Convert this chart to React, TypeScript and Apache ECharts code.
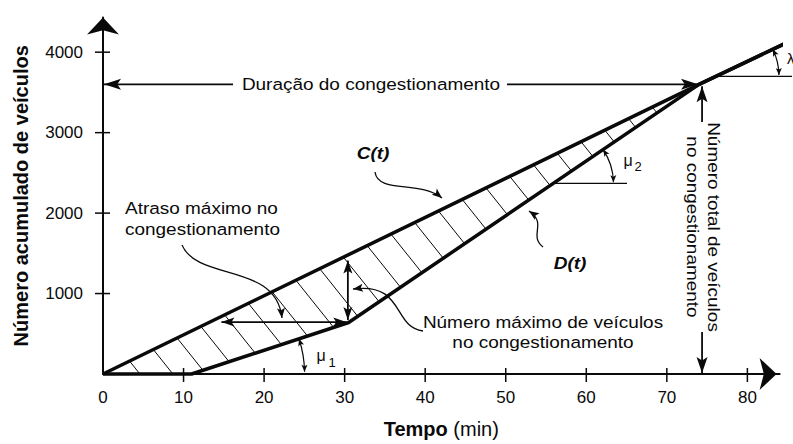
import React, { useEffect, useRef } from "react";
import * as echarts from "echarts";

// ---- data ----
const TIME_TICKS = [0, 10, 20, 30, 40, 50, 60, 70, 80];
const VEHICLE_TICKS = [1000, 2000, 3000, 4000];
// C(t): cumulative arrivals
const ARRIVALS: number[][] = [[0, 0], [74, 3600], [84.5, 4100]];
// D(t): cumulative departures
const DEPARTURES: number[][] = [[0, 0], [11, 0], [30.5, 640], [74, 3600], [84.5, 4100]];
const CONGESTION_END = [74, 3600];
const MAX_QUEUE_T = 30.4;
const MAX_QUEUE_RANGE = [670, 1410];
const MAX_DELAY_V = 646;
const MAX_DELAY_RANGE = [14.7, 30.2];
const MU2_REF_V = 2370;
const LAMBDA_REF_V = 3700;
const X_MAX = 84;
const Y_MAX = 4430;

// ---- styling ----
const FONT = '"Liberation Sans", Arial, Helvetica, sans-serif';
const INK = "#0a0a0a";
const HATCH_START = 3.3;
const HATCH_STEP = 2.95;
const HATCH_END = 71;
const HATCH_SLOPE = 1.25;

function valueAt(points: number[][], t: number) {
  for (let i = 0; i < points.length - 1; i++) {
    const a = points[i], b = points[i + 1];
    if (t >= a[0] && t <= b[0]) return a[1] + ((t - a[0]) * (b[1] - a[1])) / (b[0] - a[0]);
  }
  return points[points.length - 1][1];
}
function timeAt(points: number[][], v: number, seg: number) {
  const a = points[seg], b = points[seg + 1];
  return a[0] + ((v - a[1]) * (b[0] - a[0])) / (b[1] - a[1]);
}

function renderDecor(_params: any, api: any) {
  const children: any[] = [];
  const D = DEPARTURES.map((p) => api.coord(p));
  for (let t = HATCH_START; t < HATCH_END; t += HATCH_STEP) {
    const p0 = api.coord([t, valueAt(ARRIVALS, t)]);
    let best: number | null = null;
    for (let i = 0; i < D.length - 1; i++) {
      const a = D[i], b = D[i + 1];
      const dx = 1, dy = HATCH_SLOPE;
      const ex = b[0] - a[0], ey = b[1] - a[1];
      const den = dx * ey - dy * ex;
      if (Math.abs(den) < 1e-9) continue;
      const wx = a[0] - p0[0], wy = a[1] - p0[1];
      const s = (wx * ey - wy * ex) / den;
      const u = (wx * dy - wy * dx) / den;
      if (u >= 0 && u <= 1 && s > 0 && (best === null || s < best)) best = s;
    }
    if (best !== null) {
      children.push({
        type: "line",
        shape: { x1: p0[0], y1: p0[1], x2: p0[0] + best, y2: p0[1] + best * HATCH_SLOPE },
        style: { stroke: INK, lineWidth: 1 },
      });
    }
  }
  const o = api.coord([0, 0]);
  TIME_TICKS.filter((t) => t > 0).forEach((t) => {
    const p = api.coord([t, 0]);
    children.push({ type: "line", shape: { x1: p[0], y1: o[1] - 6, x2: p[0], y2: o[1] + 8 }, style: { stroke: INK, lineWidth: 1.5 } });
  });
  VEHICLE_TICKS.forEach((v) => {
    const p = api.coord([0, v]);
    children.push({ type: "line", shape: { x1: o[0] - 8, y1: p[1], x2: o[0] + 7, y2: p[1] }, style: { stroke: INK, lineWidth: 1.5 } });
  });
  return { type: "group", children };
}

type P = number[];
function head(tip: P, from: P, len = 14, hw = 4.5) {
  const dx = tip[0] - from[0], dy = tip[1] - from[1];
  const L = Math.hypot(dx, dy) || 1;
  const ux = dx / L, uy = dy / L, nx = -uy, ny = ux;
  const bx = tip[0] - ux * len, by = tip[1] - uy * len;
  const kx = tip[0] - ux * len * 0.78, ky = tip[1] - uy * len * 0.78;
  return {
    type: "polygon",
    z: 60,
    shape: { points: [[tip[0], tip[1]], [bx + nx * hw, by + ny * hw], [kx, ky], [bx - nx * hw, by - ny * hw]] },
    style: { fill: INK },
  };
}
function seg(a: P, b: P, w = 1.6) {
  return { type: "line", z: 55, shape: { x1: a[0], y1: a[1], x2: b[0], y2: b[1] }, style: { stroke: INK, lineWidth: w } };
}
function arrow(a: P, b: P, both: boolean, len = 14, hw = 4.5, w = 1.6) {
  const els: any[] = [seg(a, b, w), head(b, a, len, hw)];
  if (both) els.push(head(a, b, len, hw));
  return els;
}
function curve(a: P, c1: P, c2: P, b: P, len = 10, hw = 4) {
  return [
    {
      type: "bezierCurve",
      z: 55,
      shape: { x1: a[0], y1: a[1], cpx1: c1[0], cpy1: c1[1], cpx2: c2[0], cpy2: c2[1], x2: b[0], y2: b[1] },
      style: { stroke: INK, lineWidth: 1.3, fill: null },
    },
    head(b, c2, len, hw),
  ];
}
function arcArrow(c: P, r: number, a0: number, a1: number) {
  const pt = (a: number) => [c[0] + r * Math.cos(a), c[1] + r * Math.sin(a)];
  const p0 = pt(a0), p1 = pt(a1);
  const t1 = [-Math.sin(a1), Math.cos(a1)];
  const t0 = [Math.sin(a0), -Math.cos(a0)];
  return [
    {
      type: "arc",
      z: 55,
      shape: { cx: c[0], cy: c[1], r, startAngle: a0, endAngle: a1, clockwise: true },
      style: { stroke: INK, lineWidth: 1.2, fill: null },
    },
    head(p1, [p1[0] - t1[0], p1[1] - t1[1]], 7, 3),
    head(p0, [p0[0] - t0[0], p0[1] - t0[1]], 7, 3),
  ];
}
function label(text: string, x: number, y: number, o: any = {}) {
  const align = o.align ?? "center";
  return {
    type: "text",
    z: 70,
    x,
    y,
    rotation: o.rot ?? 0,
    scaleX: o.sx ?? 1.15,
    style: {
      text,
      fill: INK,
      fontSize: o.size ?? 16.5,
      fontFamily: FONT,
      fontWeight: o.weight ?? "normal",
      fontStyle: o.fstyle ?? "normal",
      lineHeight: o.lh ?? 21,
      align,
      verticalAlign: "middle",
      textAlign: align,
      textVerticalAlign: "middle",
    },
  };
}

function buildGraphic(px: (p: P) => P) {
  const els: any[] = [];
  const O = px([0, 0]);
  const E = px(CONGESTION_END);
  // duration of congestion
  els.push(...arrow([233, E[1]], [O[0] + 1, E[1]], false, 17, 5.5, 1.8));
  els.push(...arrow([507, E[1]], [E[0] - 1, E[1]], false, 17, 5.5, 1.8));
  els.push(label("Duração do congestionamento", 371, E[1]));
  // total number of vehicles
  const vx = E[0] + 3;
  els.push(...arrow([vx, 122], [vx, E[1] + 2], false, 16, 5.5, 1.8));
  els.push(...arrow([vx, 332], [vx, O[1] - 1], false, 16, 5.5, 1.8));
  els.push(label("Número total de veículos\nno congestionamento", 703, 227, { rot: -Math.PI / 2 }));
  // maximum queue & delay
  els.push(...arrow(px([MAX_QUEUE_T, MAX_QUEUE_RANGE[0]]), px([MAX_QUEUE_T, MAX_QUEUE_RANGE[1]]), true, 13, 4.5, 1.8));
  els.push(...arrow(px([MAX_DELAY_RANGE[1], MAX_DELAY_V]), px([MAX_DELAY_RANGE[0], MAX_DELAY_V]), true, 13, 4.5, 1.8));
  // C(t), D(t)
  els.push(label("C(t)", 373, 153, { weight: "bold", fstyle: "italic" }));
  els.push(...curve([375, 172], [378, 194], [420, 180], [442, 198]));
  els.push(label("D(t)", 570, 263, { weight: "bold", fstyle: "italic" }));
  els.push(...curve([543, 247], [528, 235], [548, 224], [529, 211]));
  // texts with pointers
  els.push(label("Atraso máximo no", 125, 208, { align: "left" }));
  els.push(label("congestionamento", 125, 229, { align: "left" }));
  els.push(...curve([182, 245], [198, 282], [276, 262], [282, 318]));
  els.push(label("Número máximo de veículos", 543, 322));
  els.push(label("no congestionamento", 543, 342));
  els.push(...curve([423, 331], [392, 327], [405, 282], [353, 289]));
  // mu1
  const c1 = px(DEPARTURES[1]);
  const d2 = px(DEPARTURES[2]);
  const th1 = Math.atan2(d2[1] - c1[1], d2[0] - c1[0]);
  els.push(...arcArrow(c1, 113, th1, -0.02));
  els.push(label("μ", 321, 355, { sx: 1, size: 16 }));
  els.push(label("1", 332, 362, { sx: 1, size: 13 }));
  // mu2
  const c2 = px([timeAt(DEPARTURES, MU2_REF_V, 2), MU2_REF_V]);
  const d3 = px(DEPARTURES[3]);
  const th2 = Math.atan2(d3[1] - d2[1], d3[0] - d2[0]);
  els.push(seg(c2, [627, c2[1]], 1.3));
  els.push(...arcArrow(c2, 60, th2, -0.02));
  els.push(label("μ", 628, 160, { sx: 1, size: 16 }));
  els.push(label("2", 638, 166, { sx: 1, size: 13 }));
  // lambda
  const c3 = px([timeAt(ARRIVALS, LAMBDA_REF_V, 1), LAMBDA_REF_V]);
  const a4 = px(ARRIVALS[2]);
  const th3 = Math.atan2(a4[1] - c3[1], a4[0] - c3[0]);
  els.push(seg(c3, [792, c3[1]], 1.3));
  els.push(...arcArrow(c3, 63, th3, -0.02));
  els.push(label("λ", 787, 58, { sx: 1, size: 15, align: "left" }));
  return els;
}

export default function App() {
  const ref = useRef<HTMLDivElement>(null);
  useEffect(() => {
    if (!ref.current) return;
    const chart = echarts.init(ref.current, null, { renderer: "svg" });
    const lineStyle = { color: INK, width: 3.5 };
    chart.setOption({
      animation: false,
      backgroundColor: "#ffffff",
      grid: { left: 103, right: 13.4, top: 17.6, bottom: 68 },
      xAxis: {
        type: "value",
        min: 0,
        max: X_MAX,
        interval: 10,
        splitLine: { show: false },
        axisTick: { show: false },
        axisLine: { show: true, symbol: ["none", "arrow"], symbolSize: [24, 17], symbolOffset: [0, -3], lineStyle: { color: INK, width: 2 } },
        axisLabel: { customValues: TIME_TICKS, color: INK, fontSize: 17, fontFamily: FONT, margin: 15, formatter: (v: number) => String(v) },
        name: "{b|Tempo} (min)",
        nameLocation: "middle",
        nameGap: 45,
        nameTextStyle: { color: INK, fontSize: 20, fontFamily: FONT, rich: { b: { fontWeight: "bold", fontSize: 20, fontFamily: FONT, color: INK } } },
      },
      yAxis: {
        type: "value",
        min: 0,
        max: Y_MAX,
        interval: 1000,
        splitLine: { show: false },
        axisTick: { show: false },
        axisLine: { show: true, symbol: ["none", "arrow"], symbolSize: [24, 17], lineStyle: { color: INK, width: 2 } },
        axisLabel: { customValues: VEHICLE_TICKS, color: INK, fontSize: 17, fontFamily: FONT, margin: 20, formatter: (v: number) => String(v) },
        name: "Número acumulado de veículos",
        nameLocation: "middle",
        nameGap: 72,
        nameTextStyle: { color: INK, fontSize: 20, fontWeight: "bold", fontFamily: FONT },
      },
      series: [
        {
          type: "custom",
          coordinateSystem: "cartesian2d",
          data: [[0, 0]],
          renderItem: renderDecor,
          clip: false,
          silent: true,
          z: 1,
        },
        { name: "C(t)", type: "line", data: ARRIVALS, symbol: "none", lineStyle, clip: false, z: 5 },
        { name: "D(t)", type: "line", data: DEPARTURES, symbol: "none", lineStyle, clip: false, z: 5 },
      ],
    });
    const px = (p: P) => chart.convertToPixel({ xAxisIndex: 0, yAxisIndex: 0 }, p) as P;
    chart.setOption({ graphic: { elements: buildGraphic(px) } });
    return () => chart.dispose();
  }, []);
  return <div ref={ref} style={{ position: "fixed", left: 0, top: 0, width: 793, height: 444, background: "#fff" }} />;
}
